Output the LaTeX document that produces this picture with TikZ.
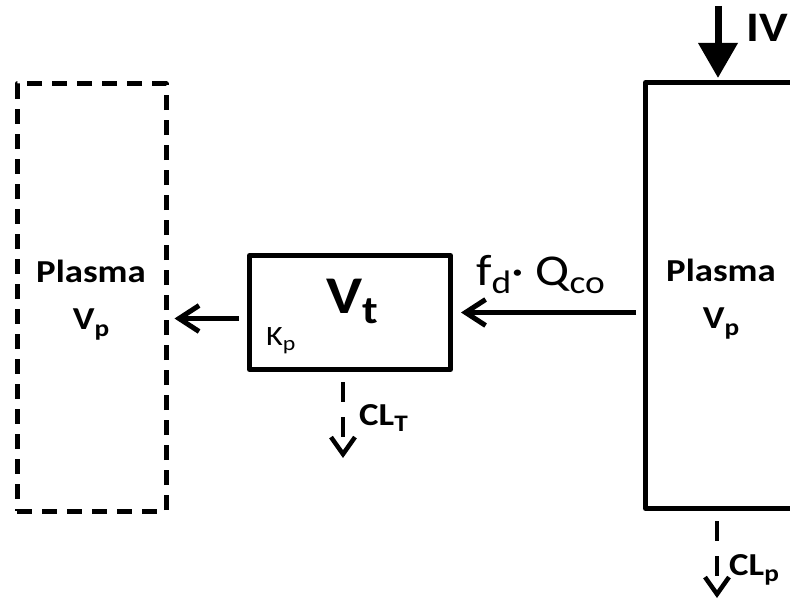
\documentclass[tikz,border=0pt]{standalone}
\usepackage{fontspec}
\setmainfont{Carlito}
\usetikzlibrary{arrows.meta}
\newcommand{\sbs}[1]{\raisebox{-0.2em}{\scalebox{0.74}{#1}}}

\begin{document}
\begin{tikzpicture}[x=1pt, y=-1pt,
        box/.style={draw, line width=5pt, line join=round, inner sep=0pt},
        lbl/.style={transform shape, xscale=1.15, inner sep=0pt},
        flow/.style={line width=5pt, -{Straight Barb[length=20pt,width=26pt]}},
        elim/.style={line width=4.5pt, dash pattern=on 20pt off 15pt, -{Straight Barb[length=17pt,width=24pt]}},
        dose/.style={line width=7pt, -{Triangle[length=35pt,width=38pt]}}]
        \clip (0,0) rectangle (790,602);
        % COMPARTIMENTI
        \node[box, dash pattern=on 15pt off 10pt, minimum width=149pt, minimum height=427pt] (plasmaL) at (91.5,297.5) {};
        \node[box, minimum width=201pt, minimum height=114pt] (tissue) at (350,312.5) {};
        \node[box, minimum width=254pt, minimum height=426pt] (plasmaR) at (772.5,295.5) {};

        % ETICHETTE
        \node[lbl, align=center, font=\fontsize{32}{47}\selectfont\bfseries] (plasmaLtxt) at (91,300) {Plasma\\V\sbs{p}};
        \node[lbl, align=center, font=\fontsize{32}{47}\selectfont\bfseries] (plasmaRtxt) at (721,299) {Plasma\\V\sbs{p}};
        \node[lbl, anchor=base west, font=\fontsize{53}{56}\selectfont\bfseries] (vt) at (326,313) {V\sbs{t}};
        \node[lbl, anchor=base west, font=\fontsize{28}{32}\selectfont] (kp) at (266,345) {K\sbs{p}};
        \node[lbl, anchor=base west, font=\fontsize{44}{48}\selectfont] (qco) at (476,285) {f\sbs{d}· Q\sbs{co}};
        \node[lbl, anchor=base west, font=\fontsize{42}{46}\selectfont\bfseries] (iv) at (746,42) {IV};
        \node[lbl, anchor=base west, font=\fontsize{32}{36}\selectfont\bfseries] (clt) at (359,425) {CL\sbs{T}};
        \node[lbl, anchor=base west, font=\fontsize{32}{36}\selectfont\bfseries] (clp) at (729,575) {CL\sbs{p}};

        % FRECCE
        \coordinate (ivtop) at (718,6);
        \coordinate (cltip) at (343,458);
        \coordinate (clptip) at (717,598);
        \draw[dose, shorten >=2pt] (ivtop) -- (ivtop |- plasmaR.north);
        \draw[flow, shorten <=7pt, shorten >=8pt] (plasmaR.west |- tissue.east) -- (tissue.east);
        \draw[flow, shorten <=8pt, shorten >=6pt] ([yshift=-6pt]tissue.west) coordinate (kout) -- (plasmaL.east |- kout);
        \draw[elim, shorten <=10pt] (tissue.south -| cltip) -- (cltip);
        \draw[elim, shorten <=10pt] (plasmaR.south -| clptip) -- (clptip);
\end{tikzpicture}
\end{document}
